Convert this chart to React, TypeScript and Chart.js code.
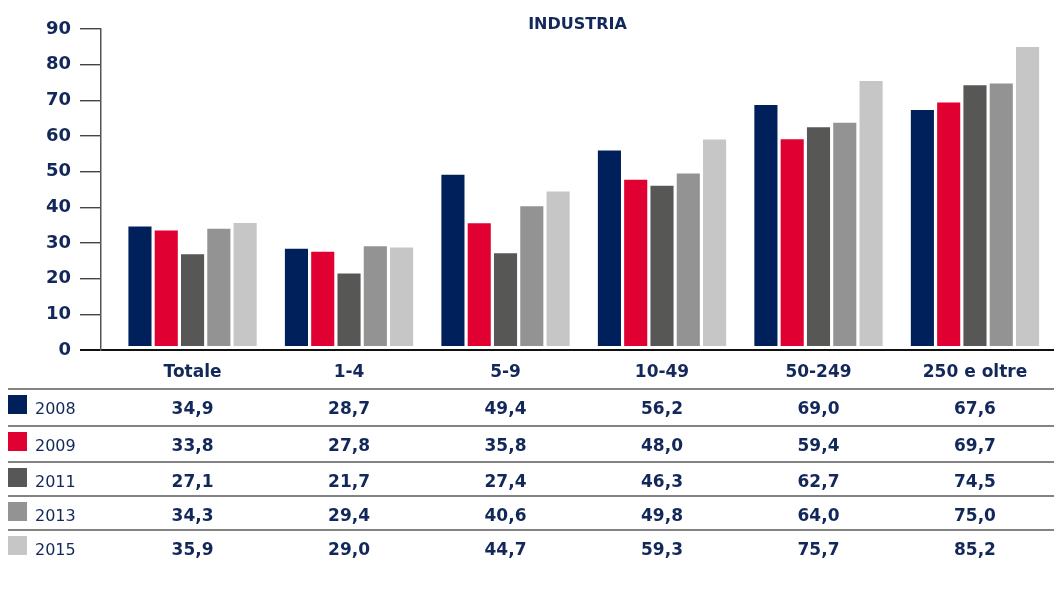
import React, { useEffect, useRef } from "react";
import { Chart, registerables } from "chart.js";

Chart.register(...registerables);

const categories = ["Totale", "1-4", "5-9", "10-49", "50-249", "250 e oltre"];
const years = ["2008", "2009", "2011", "2013", "2015"];
const values2008 = [34.9, 28.7, 49.4, 56.2, 69.0, 67.6];
const values2009 = [33.8, 27.8, 35.8, 48.0, 59.4, 69.7];
const values2011 = [27.1, 21.7, 27.4, 46.3, 62.7, 74.5];
const values2013 = [34.3, 29.4, 40.6, 49.8, 64.0, 75.0];
const values2015 = [35.9, 29.0, 44.7, 59.3, 75.7, 85.2];
const seriesValues = [values2008, values2009, values2011, values2013, values2015];
const seriesColors = ["#00205b", "#e00032", "#575756", "#939393", "#c6c6c6"];
const yTicks = [0, 10, 20, 30, 40, 50, 60, 70, 80, 90];
const title = "INDUSTRIA";

const NAVY = "#13285a";
const FONT = "'DejaVu Sans', sans-serif";

const fmt = (v: number) => v.toFixed(1).replace(".", ",");

const tablePlugin = {
  id: "tablePlugin",
  afterDraw(chart: any) {
    const ctx = chart.ctx;
    const xs = chart.scales.x;
    const area = chart.chartArea;
    ctx.save();
    // title
    ctx.fillStyle = NAVY;
    ctx.font = `bold 16px ${FONT}`;
    ctx.textAlign = "center";
    ctx.textBaseline = "alphabetic";
    ctx.fillText(title, (area.left + area.right) / 2, 29);

    const lineYs = [389, 426, 462, 496, 530];
    years.forEach((yr, i) => {
      const ly = lineYs[i];
      ctx.strokeStyle = "#5a5a5a";
      ctx.lineWidth = 1.5;
      ctx.beginPath();
      ctx.moveTo(8, ly);
      ctx.lineTo(chart.width, ly);
      ctx.stroke();
      ctx.fillStyle = seriesColors[i];
      ctx.fillRect(8, ly + 6, 19, 19);
      ctx.fillStyle = NAVY;
      ctx.textBaseline = "alphabetic";
      ctx.textAlign = "left";
      ctx.font = `16px ${FONT}`;
      ctx.fillText(yr, 35, ly + 25);
      ctx.textAlign = "center";
      ctx.font = `bold 17px ${FONT}`;
      seriesValues[i].forEach((v, j) => {
        ctx.fillText(fmt(v), xs.getPixelForValue(j), ly + 25);
      });
    });
    ctx.restore();
  },
};

export default function App() {
  const ref = useRef<HTMLCanvasElement | null>(null);
  useEffect(() => {
    document.body.style.margin = "0";
    const canvas = ref.current;
    if (!canvas) return;
    const chart = new Chart(canvas, {
      type: "bar",
      data: {
        labels: categories.map((_, i) => i),
        datasets: years.map((yr, i) => ({
          label: yr,
          data: seriesValues[i],
          backgroundColor: seriesColors[i],
          borderColor: "rgba(255,255,255,0.5)",
          borderWidth: { top: 1, left: 1, right: 1, bottom: 3 },
          borderSkipped: false,
          categoryPercentage: 0.84,
          barPercentage: 0.955,
        })),
      },
      options: {
        responsive: false,
        animation: false,
        devicePixelRatio: 1,
        layout: { padding: { top: 29, left: 0, right: 0, bottom: 0 } },
        plugins: {
          legend: { display: false },
          title: { display: false },
          tooltip: { enabled: false },
        },
        scales: {
          x: {
            type: "linear",
            offset: false,
            min: -0.585,
            max: 5.505,
            grid: { display: false, drawTicks: false, offset: false },
            border: { display: true, color: "#111", width: 2 },
            afterBuildTicks: (scale: any) => {
              scale.ticks = categories.map((_, i) => ({ value: i }));
            },
            afterFit: (scale: any) => {
              scale.height = 239;
            },
            ticks: {
              autoSkip: false,
              maxRotation: 0,
              padding: 12,
              color: NAVY,
              font: { family: FONT, size: 17, weight: "bold" },
              callback: (v: any) => categories[Math.round(Number(v))] ?? "",
            },
          },
          y: {
            min: 0,
            max: 90,
            afterBuildTicks: (scale: any) => {
              scale.ticks = yTicks.map((v) => ({ value: v }));
            },
            afterFit: (scale: any) => {
              scale.width = 101;
            },
            grid: {
              drawOnChartArea: false,
              drawTicks: true,
              tickLength: 21,
              color: (c: any) => (c.tick && c.tick.value === 0 ? "#111" : "#444"),
              lineWidth: (c: any) => (c.tick && c.tick.value === 0 ? 2 : 1.4),
            },
            border: { display: true, color: "#555", width: 1.5 },
            ticks: {
              padding: 9,
              color: NAVY,
              font: { family: FONT, size: 18, weight: "bold" },
            },
          },
        },
      },
      plugins: [tablePlugin],
    } as any);
    return () => chart.destroy();
  }, []);
  return (
    <div style={{ width: 1054, height: 589 }}>
      <canvas ref={ref} width={1054} height={589} />
    </div>
  );
}
